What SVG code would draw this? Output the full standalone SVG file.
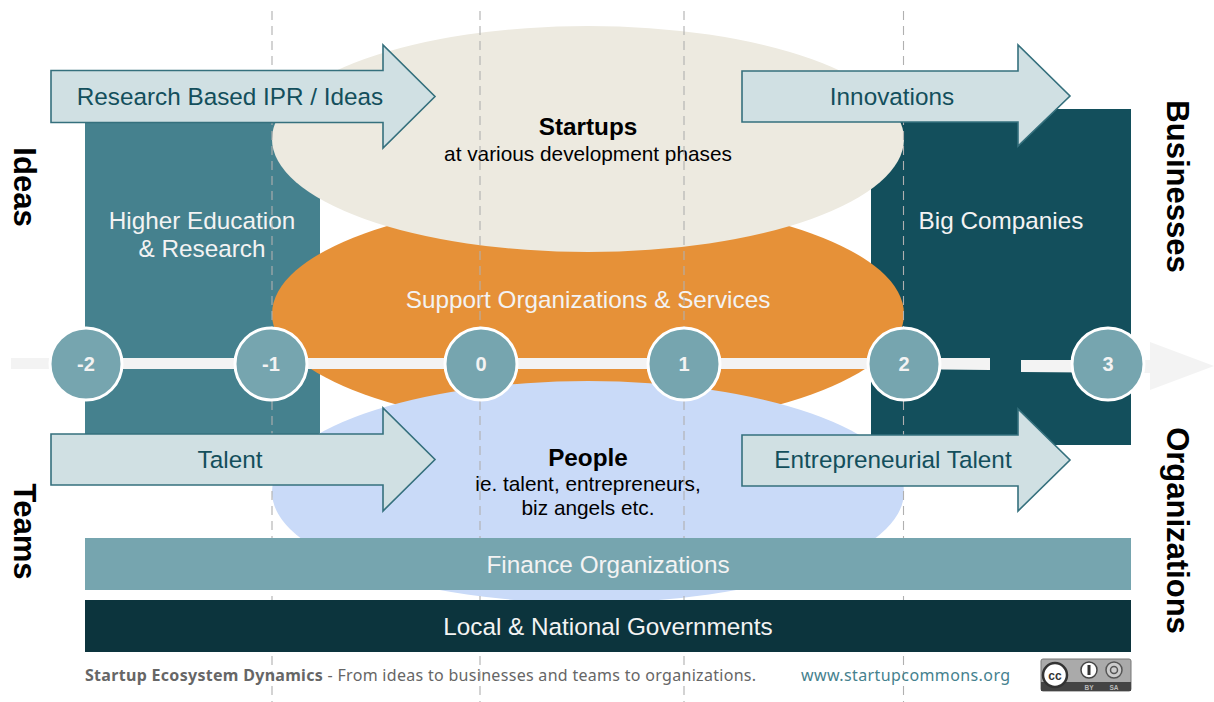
<svg xmlns="http://www.w3.org/2000/svg" width="1214" height="702" viewBox="0 0 1214 702">
<style>
text{font-family:"Liberation Sans",Arial,sans-serif}
.t{font-size:24.3px;text-anchor:middle}
.w{fill:#f3f3f3}
.d{fill:#134f5c}
.s{font-size:20.8px;text-anchor:middle;fill:#000}
.k{font-size:24.3px;font-weight:700;text-anchor:middle;fill:#000}
.h{font-size:31px;font-weight:700;fill:#000;text-anchor:middle}
.arrow{fill:#d0e0e3;stroke:#35707d;stroke-width:1.6}
.dash{stroke:#b0b0b0;stroke-width:1.1;stroke-dasharray:9 6;fill:none}
.step{fill:#76a5af;stroke:#fff;stroke-width:3}
.n{font-size:20px;font-weight:700;fill:#f3f3f3;text-anchor:middle}
.foot{font-family:"Noto Sans","DejaVu Sans",sans-serif;font-size:16px}
</style>
<rect width="1214" height="702" fill="#fff"/>
<g id="higher-education"><rect x="85" y="100" width="235" height="334" fill="#45818e"/><text class="t w" x="202" y="229">Higher Education</text><text class="t w" x="202" y="257">&amp; Research</text></g>
<g id="big-companies"><rect x="871" y="109" width="260" height="336" fill="#134f5c"/><text class="t w" x="1001" y="229">Big Companies</text></g>
<g id="support"><ellipse cx="588" cy="314" rx="316" ry="114" fill="#e69138"/><text class="t w" x="588" y="308">Support Organizations &amp; Services</text></g>
<g id="startups"><ellipse cx="588" cy="139" rx="316" ry="113" fill="#edeae0"/><text class="k" x="588" y="135">Startups</text><text class="s" x="588" y="161">at various development phases</text></g>
<g id="people"><ellipse cx="588" cy="492" rx="316" ry="111" fill="#c9daf8"/><text class="k" x="588" y="466">People</text><text class="s" x="588" y="491">ie. talent, entrepreneurs,</text><text class="s" x="588" y="515">biz angels etc.</text></g>
<g id="connectors">
<path class="dash" d="M272 11V702M480 11V702M684 11V702M903.500 11V702"/>
<path class="w" d="M11 358H990V370L942 369.500L867 369H11ZM1021 360L1150 360V342L1214 366L1150 390V373L1021 372Z"/>
<rect x="990" y="350" width="31" height="30" fill="#134f5c"/>
</g>
<g id="step-m2"><circle class="step" cx="86" cy="364" r="36"/><text class="n" x="86" y="371">-2</text></g>
<g id="step-m1"><circle class="step" cx="271" cy="364" r="36"/><text class="n" x="271" y="371">-1</text></g>
<g id="step-0"><circle class="step" cx="481" cy="364" r="36"/><text class="n" x="481" y="371">0</text></g>
<g id="step-1"><circle class="step" cx="684" cy="364" r="36"/><text class="n" x="684" y="371">1</text></g>
<g id="step-2"><circle class="step" cx="904" cy="364" r="36"/><text class="n" x="904" y="371">2</text></g>
<g id="step-3"><circle class="step" cx="1108" cy="364" r="36"/><text class="n" x="1108" y="371">3</text></g>
<g id="arrow-research"><path class="arrow" d="M51 70.500H383V45L435 96.500L383 148V122.500H51Z"/><text class="t d" x="230" y="104.500">Research Based IPR / Ideas</text></g>
<g id="arrow-innovations"><path class="arrow" d="M742 71H1018V45L1070 96L1018 146V122H742Z"/><text class="t d" x="892" y="104.500">Innovations</text></g>
<g id="arrow-talent"><path class="arrow" d="M51 434H383V408L435 459.500L383 511V485H51Z"/><text class="t d" x="230" y="468">Talent</text></g>
<g id="arrow-entrepreneurial"><path class="arrow" d="M742 435H1018V409L1070 460L1018 511V486H742Z"/><text class="t d" x="893" y="468">Entrepreneurial Talent</text></g>
<g id="finance"><rect x="85" y="538" width="1046" height="52" fill="#76a5af"/><text class="t w" x="608" y="573">Finance Organizations</text></g>
<g id="governments"><rect x="85" y="600" width="1046" height="52" fill="#0c343d"/><text class="t w" x="608" y="635">Local &amp; National Governments</text></g>
<text class="h" transform="translate(13.500 187) rotate(90)">Ideas</text>
<text class="h" transform="translate(13.500 531.500) rotate(90)" font-size="33">Teams</text>
<text class="h" transform="translate(1167 186.500) rotate(90)">Businesses</text>
<text class="h" transform="translate(1167 530.500) rotate(90)">Organizations</text>
<text class="foot" x="85" y="681" fill="#666" letter-spacing=".3"><tspan font-weight="700">Startup Ecosystem Dynamics</tspan> - From ideas to businesses and teams to organizations.</text>
<text class="foot" x="801" y="681" fill="#45818e" letter-spacing=".4">www.startupcommons.org</text>
<g id="license">
<rect x="1041" y="659" width="90" height="32" rx="2" fill="#aaa" stroke="#777"/>
<rect x="1041" y="682" width="90" height="9" fill="#444"/>
<circle cx="1055" cy="675" r="12" fill="#fff" stroke="#333" stroke-width="2.500"/>
<text x="1055" y="679.500" font-size="12" font-weight="700" text-anchor="middle" fill="#333">cc</text>
<circle cx="1089" cy="670" r="8" fill="#fff" stroke="#444" stroke-width="1.500"/><path d="M1089 665v10" stroke="#333" stroke-width="3"/>
<circle cx="1114" cy="670" r="8" fill="#ccc" stroke="#555" stroke-width="1.500"/><circle cx="1114" cy="670" r="3.500" fill="none" stroke="#555" stroke-width="1.500"/>
<text x="1089" y="689.500" font-size="6.500" font-weight="700" text-anchor="middle" fill="#bbb">BY</text>
<text x="1114" y="689.500" font-size="6.500" font-weight="700" text-anchor="middle" fill="#bbb">SA</text>
</g>
</svg>
